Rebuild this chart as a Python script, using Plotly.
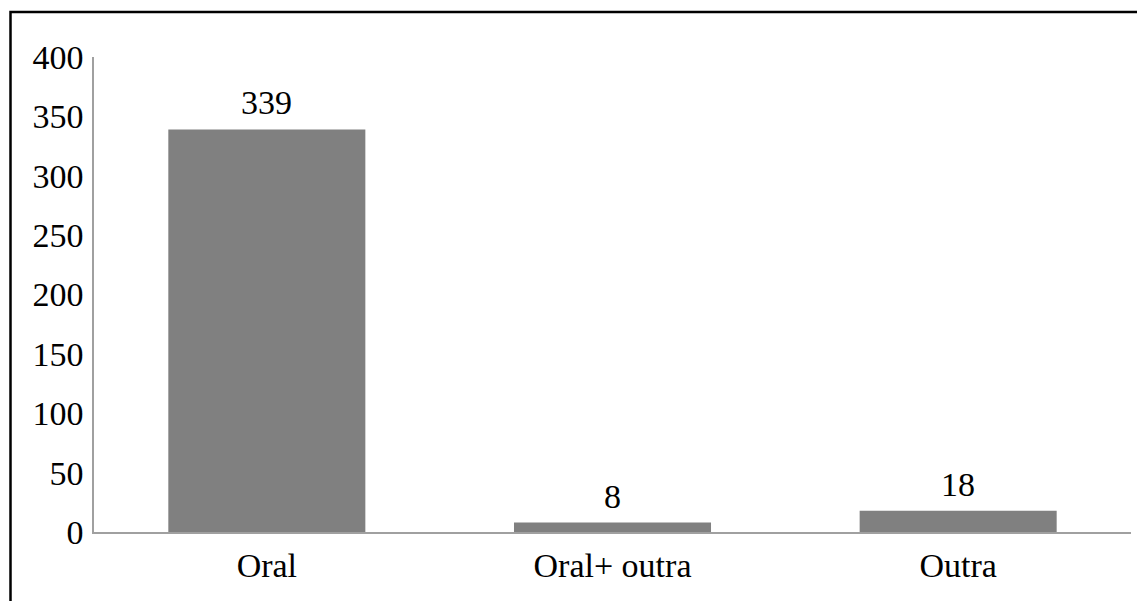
import plotly.graph_objects as go

categories = ["Oral", "Oral+ outra", "Outra"]
values = [339, 8, 18]
y_ticks = [0, 50, 100, 150, 200, 250, 300, 350, 400]

W, H = 1137, 601
ml, mr, mt, mb = 94, 6, 57, 69
pw = W - ml - mr
ph = H - mt - mb

def px_x(p):
    return (p - ml) / pw

def px_y(p):
    return (H - mb - p) / ph

font = dict(family="Liberation Serif", size=34, color="black")

fig = go.Figure(
    go.Bar(
        x=categories,
        y=values,
        marker=dict(color="#808080", line=dict(width=0)),
        width=0.57,
        cliponaxis=False,
    )
)

for c, v in zip(categories, values):
    fig.add_annotation(
        x=c, y=v, text=str(v), showarrow=False,
        yanchor="bottom", xanchor="center", yshift=6, font=font,
    )

fig.update_layout(
    width=W,
    height=H,
    margin=dict(l=ml, r=mr, t=mt, b=mb),
    paper_bgcolor="white",
    plot_bgcolor="white",
    font=font,
    showlegend=False,
    xaxis=dict(
        showline=True,
        linecolor="#a0a0a0",
        linewidth=1.5,
        ticks="",
        showgrid=False,
        tickfont=font,
        ticklabelstandoff=2,
    ),
    yaxis=dict(
        range=[0, 400],
        tickvals=y_ticks,
        showline=True,
        linecolor="#a0a0a0",
        linewidth=1.5,
        ticks="",
        showgrid=False,
        zeroline=False,
        tickfont=font,
        ticklabelstandoff=2,
    ),
    shapes=[
        dict(
            type="rect",
            xref="paper",
            yref="paper",
            x0=px_x(10.5),
            x1=px_x(1200),
            y0=px_y(700),
            y1=px_y(12),
            line=dict(color="black", width=2.5),
            fillcolor="rgba(0,0,0,0)",
            layer="above",
        )
    ],
)

fig.write_html(
    "out.html",
    config={"displayModeBar": False},
    post_script="document.body.style.margin='0';document.body.style.overflow='hidden';",
)
